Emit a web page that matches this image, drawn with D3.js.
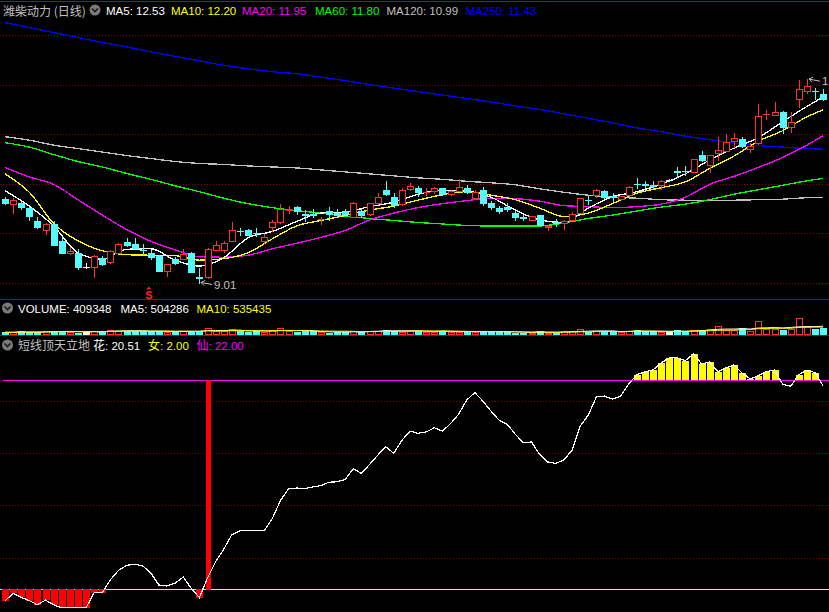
<!DOCTYPE html>
<html><head><meta charset="utf-8">
<script src="https://cdn.jsdelivr.net/npm/d3@7"></script>
<style>
html,body{margin:0;padding:0;background:#000;overflow:hidden;}
svg{display:block;}
text{font-family:"Liberation Sans","Noto Sans CJK SC",sans-serif;font-size:11.5px;}
.cjk{font-family:"Noto Sans CJK SC",sans-serif;font-size:12px;}
</style></head><body>
<svg id="c" width="829" height="612"></svg>
<script>
// ---------------- DATA ----------------
const stockTitle = "潍柴动力 (日线)";
const maLegend = [["MA5","12.53"],["MA10","12.20"],["MA20","11.95"],["MA60","11.80"],["MA120","10.99"],["MA250","11.43"]];
const volLegend = [["VOLUME","409348"],["MA5","504286"],["MA10","535435"]];
const indName = "短线顶天立地";
const indLegend = [["花","20.51"],["女","2.00"],["仙","22.00"]];

const opens = [10.69,10.59,10.62,10.52,10.25,10.06,10.18,9.85,9.60,9.61,
9.32,9.32,9.50,9.42,9.61,9.83,9.79,9.67,9.61,9.55,
9.24,9.48,9.49,9.60,9.12,9.12,9.67,9.67,9.85,10.05,
10.07,10.01,9.85,10.13,10.22,10.48,10.53,10.40,10.40,10.29,
10.45,10.41,10.45,10.34,10.45,10.39,10.61,10.88,10.73,10.59,
10.90,10.91,10.83,10.86,10.91,10.79,10.86,10.91,10.71,10.88,
10.62,10.51,10.54,10.42,10.33,10.28,10.37,10.12,10.22,10.20,
10.28,10.42,10.68,10.77,10.86,10.75,10.70,10.77,11.00,11.00,
10.98,10.97,11.08,11.25,11.26,11.24,11.58,11.38,11.62,11.67,
11.87,11.90,11.70,11.82,12.40,12.39,12.45,12.15,12.70,12.88,
12.88,12.81];
const highs = [10.74,10.72,10.66,10.54,10.34,10.20,10.24,9.92,9.72,9.69,
9.40,9.56,9.55,9.66,9.81,9.91,9.91,9.79,9.67,9.56,
9.39,9.52,9.68,9.63,9.31,9.70,9.85,9.85,10.22,10.10,
10.08,10.10,9.99,10.27,10.59,10.55,10.55,10.47,10.50,10.34,
10.53,10.50,10.50,10.63,10.49,10.62,10.81,11.06,10.82,10.91,
11.01,10.96,10.91,10.93,10.92,10.88,11.09,10.98,10.87,10.94,
10.66,10.55,10.61,10.46,10.38,10.36,10.38,10.16,10.30,10.28,
10.44,10.72,10.75,10.90,10.88,10.82,10.76,10.95,11.12,11.06,
11.06,11.07,11.10,11.33,11.35,11.51,11.66,11.59,11.94,12.00,
12.03,11.94,11.82,12.61,12.49,12.64,12.47,12.45,13.09,13.11,
12.93,12.91];
const lows = [10.59,10.42,10.50,10.27,10.10,9.99,9.76,9.60,9.59,9.28,
9.31,9.13,9.37,9.41,9.60,9.75,9.70,9.56,9.48,9.24,
9.14,9.39,9.48,9.22,9.01,9.11,9.66,9.63,9.84,9.97,
9.96,9.95,9.81,10.05,10.21,10.41,10.39,10.26,10.34,10.18,
10.28,10.34,10.38,10.33,10.33,10.38,10.60,10.77,10.53,10.58,
10.88,10.75,10.77,10.81,10.78,10.77,10.85,10.81,10.70,10.58,
10.49,10.42,10.45,10.28,10.27,10.27,10.16,10.06,10.15,10.08,
10.27,10.41,10.59,10.73,10.72,10.66,10.69,10.76,10.92,10.91,
10.89,10.90,11.05,11.14,11.18,11.23,11.46,11.24,11.48,11.66,
11.75,11.75,11.65,11.81,12.30,12.38,12.02,12.05,12.54,12.84,
12.70,12.69];
const closes = [10.61,10.67,10.53,10.36,10.12,10.18,9.77,9.61,9.64,9.32,
9.32,9.55,9.38,9.64,9.79,9.76,9.71,9.66,9.52,9.25,
9.38,9.40,9.59,9.23,9.11,9.69,9.76,9.81,10.06,10.04,
9.97,10.00,9.93,10.22,10.49,10.49,10.45,10.38,10.38,10.30,
10.39,10.37,10.39,10.61,10.38,10.61,10.73,10.79,10.58,10.88,
10.96,10.84,10.84,10.91,10.79,10.86,10.93,10.84,10.84,10.62,
10.54,10.46,10.49,10.33,10.32,10.35,10.17,10.15,10.21,10.26,
10.39,10.71,10.67,10.88,10.74,10.74,10.75,10.94,10.99,10.98,
10.96,11.05,11.08,11.24,11.25,11.50,11.47,11.58,11.68,11.84,
11.92,11.76,11.76,12.37,12.41,12.45,12.14,12.25,12.91,12.97,
12.87,12.70];
const volumes = [119000,119000,189000,119000,119000,189000,231000,231000,140000,91000,
119000,231000,189000,301000,231000,189000,231000,189000,189000,189000,
140000,140000,231000,231000,189000,399000,189000,189000,350000,231000,
140000,189000,140000,301000,399000,231000,140000,189000,189000,140000,
91000,140000,140000,231000,140000,231000,231000,301000,231000,140000,
231000,231000,161000,161000,231000,140000,140000,189000,140000,189000,
189000,140000,140000,91000,91000,91000,210000,91000,91000,189000,
189000,350000,161000,189000,189000,189000,119000,189000,280000,189000,
189000,140000,140000,280000,189000,280000,280000,329000,560000,280000,
280000,420000,189000,910000,371000,371000,280000,371000,1120000,469000,
350000,409348];

// moving-average lines at these bar indices
const maIdx = [0,3,6,9,12,15,18,21,24,27,30,33,36,39,42,45,48,51,54,57,60,63,66,69,72,75,78,81,84,87,90,93,96,99,101];
const ma5 = [10.86,10.55,10.15,9.61,9.48,9.68,9.69,9.46,9.34,9.51,9.91,10.04,10.24,10.41,10.43,10.54,10.63,10.79,10.87,10.85,10.73,10.47,10.27,10.22,10.51,10.74,10.84,10.99,11.20,11.48,11.72,11.93,12.25,12.56,12.75];
const ma10 = [11.20,10.83,10.20,9.85,9.65,9.57,9.56,9.55,9.46,9.49,9.61,9.89,10.15,10.26,10.36,10.47,10.55,10.67,10.78,10.84,10.77,10.68,10.51,10.34,10.41,10.60,10.81,10.92,11.04,11.31,11.56,11.86,12.07,12.35,12.49];
const ma20 = [11.33,11.14,10.99,10.68,10.37,10.08,9.84,9.67,9.53,9.52,9.56,9.69,9.80,9.92,10.06,10.27,10.41,10.52,10.60,10.66,10.71,10.70,10.65,10.56,10.54,10.52,10.54,10.59,10.73,10.99,11.15,11.33,11.53,11.78,11.97];
const ma60 = [11.83,11.74,11.59,11.45,11.34,11.21,11.09,10.96,10.84,10.71,10.60,10.52,10.46,10.41,10.35,10.30,10.26,10.22,10.19,10.16,10.15,10.15,10.15,10.21,10.30,10.37,10.45,10.53,10.59,10.68,10.79,10.88,10.97,11.06,11.11];
const ma120 = [11.95,11.88,11.78,11.71,11.64,11.57,11.51,11.45,11.41,11.39,11.36,11.34,11.32,11.28,11.24,11.20,11.16,11.12,11.09,11.05,11.02,10.98,10.90,10.83,10.77,10.73,10.71,10.68,10.67,10.67,10.67,10.68,10.69,10.72,10.73];
const ma250 = [14.25,14.15,14.05,13.95,13.85,13.76,13.66,13.57,13.48,13.39,13.32,13.26,13.22,13.15,13.08,13.00,12.93,12.86,12.79,12.72,12.65,12.57,12.50,12.41,12.32,12.23,12.13,12.05,11.96,11.89,11.82,11.77,11.74,11.71,11.70];

// indicator 短线顶天立地
const hua = [0.85,1.59,1.20,0.88,0.49,0.94,0.49,0.20,0.20,0.20,
0.20,1.64,1.64,2.87,3.78,4.26,4.38,4.21,3.54,2.38,
2.29,2.55,3.15,2.05,1.18,3.06,4.60,5.80,7.19,7.58,
7.61,7.61,7.58,8.73,10.46,11.59,11.66,11.62,11.76,11.90,
12.22,12.26,12.48,13.51,13.06,13.92,14.79,15.61,14.98,16.23,
17.10,16.90,17.03,17.43,17.10,17.82,18.73,20.08,20.80,19.98,
19.02,18.15,17.77,16.81,15.99,16.07,14.88,14.16,14.02,14.36,
15.27,17.58,18.63,20.37,20.46,20.17,20.46,21.62,22.51,22.77,
22.96,23.63,24.12,24.12,23.86,24.50,23.54,23.73,22.80,23.15,
23.44,22.67,22.10,22.41,22.80,22.96,21.60,21.40,22.51,22.96,
22.70,21.45];
const nvLevel = 2.00;
const xianLevel = 22.00;
const signalIdx = [25];
const sellMarkIdx = 18;
const lowMark = {idx:24, value:9.01, label:"9.01"};
const highMark = {idx:99, value:13.11, label:"13.11"};
const priceTicks = [9,10,11,12,13,14];
const indTicks = [5,10,15,20];

// ---------------- CHART ----------------
const W = 829, H = 612;
const UP = "#ff3232", DOWN = "#54fcfc", FLAT = "#ffffff";
const GRID = "#8c0000", FRAME = "#b00000", LABEL = "#c0c0c0";
const svg = d3.select("#c");
svg.append("rect").attr("width", W).attr("height", H).attr("fill", "#000");

const n = closes.length;
const x = d3.scaleLinear().domain([0, n - 1]).range([5, 823.1]);
const yP = d3.scaleLinear().domain([9, 14]).range([283, 35]);
const yV = d3.scaleLinear().domain([0, 1400000]).range([334, 314]);
const yI = d3.scaleLinear().domain([2, 22]).range([589, 380]);

// frames
const frame = svg.append("g").attr("shape-rendering", "crispEdges");
[1.5, 299.5, 335.5].forEach(y => frame.append("line").attr("x1", 0).attr("x2", W).attr("y1", y).attr("y2", y).attr("stroke", FRAME));

// grids
const grid = svg.append("g").attr("shape-rendering", "crispEdges");
grid.selectAll(".gp").data(priceTicks).join("line")
  .attr("x1", 0).attr("x2", W)
  .attr("y1", d => Math.round(yP(d)) + 0.5).attr("y2", d => Math.round(yP(d)) + 0.5)
  .attr("stroke", GRID).attr("stroke-dasharray", "1,2");
grid.selectAll(".gi").data(indTicks).join("line")
  .attr("x1", 0).attr("x2", W)
  .attr("y1", d => Math.round(yI(d)) + 0.5).attr("y2", d => Math.round(yI(d)) + 0.5)
  .attr("stroke", GRID).attr("stroke-dasharray", "1,2");

// MA lines
const maSeries = [[ma250, "#0000ff"], [ma120, "#c0c0c0"], [ma60, "#00ff00"], [ma20, "#ff00ff"], [ma10, "#ffff00"], [ma5, "#ffffff"]];
const maLine = d3.line().x(d => x(d[0])).y(d => yP(d[1])).curve(d3.curveMonotoneX);
svg.append("g").attr("shape-rendering", "crispEdges").selectAll("path").data(maSeries).join("path")
  .attr("d", s => maLine(maIdx.map((k, j) => [k, s[0][j]])))
  .attr("fill", "none").attr("stroke", s => s[1]).attr("stroke-width", 1.3);

// candles
const candles = closes.map((c, i) => ({i, o: opens[i], h: highs[i], l: lows[i], c}));
const colOf = d => d.c > d.o ? UP : (d.c < d.o ? DOWN : FLAT);
const gC = svg.append("g").attr("shape-rendering", "crispEdges");
candles.forEach(d => {
  const xc = Math.round(x(d.i));
  const col = colOf(d);
  const yt = Math.round(yP(Math.max(d.o, d.c))), yb = Math.round(yP(Math.min(d.o, d.c)));
  gC.append("line").attr("x1", xc + 0.5).attr("x2", xc + 0.5)
    .attr("y1", Math.round(yP(d.h))).attr("y2", Math.round(yP(d.l)) + 1).attr("stroke", col);
  if (yb - yt < 1) {
    gC.append("line").attr("x1", xc - 3).attr("x2", xc + 4).attr("y1", yt + 0.5).attr("y2", yt + 0.5).attr("stroke", col);
  } else if (d.c > d.o) {
    gC.append("rect").attr("x", xc - 2.5).attr("y", yt + 0.5).attr("width", 6).attr("height", yb - yt)
      .attr("fill", "#000").attr("stroke", col);
  } else {
    gC.append("rect").attr("x", xc - 3).attr("y", yt).attr("width", 7).attr("height", yb - yt + 1).attr("fill", col);
  }
});

// high / low marks
function mark(m) {
  const tx = Math.round(x(m.idx)) + 2, ty = yP(m.value);
  const g = svg.append("g");
  g.append("path").attr("d", `M${tx},${ty} L${tx + 11},${ty + 2} M${tx},${ty} L${tx + 4},${ty - 2} M${tx},${ty} L${tx + 3},${ty + 3}`)
    .attr("stroke", LABEL).attr("fill", "none");
  g.append("text").attr("x", tx + 13).attr("y", ty + 6).attr("fill", LABEL).text(m.label);
}
mark(lowMark); mark(highMark);

// S mark
{
  const sx = x(sellMarkIdx) - 2;
  svg.append("path").attr("d", `M${sx - 2.5},289.5 L${sx},286.5 L${sx + 2.5},289.5 Z`).attr("fill", "#ff2020");
  svg.append("text").attr("x", sx).attr("y", 298.5).attr("text-anchor", "middle")
    .attr("fill", "#ff2020").style("font-weight", "bold").style("font-size", "11px").text("S");
}

// volume
const gV = svg.append("g").attr("shape-rendering", "crispEdges");
candles.forEach(d => {
  const xc = Math.round(x(d.i));
  const col = colOf(d);
  const yt = Math.round(yV(volumes[d.i]));
  if (d.c > d.o) {
    gV.append("rect").attr("x", xc - 2.5).attr("y", yt + 0.5).attr("width", 6).attr("height", Math.max(0, 334 - yt))
      .attr("fill", "none").attr("stroke", col);
  } else {
    gV.append("rect").attr("x", xc - 3).attr("y", yt).attr("width", 7).attr("height", 335 - yt).attr("fill", col);
  }
});
const volMA = k => volumes.map((v, i) => d3.mean(volumes.slice(Math.max(0, i - k + 1), i + 1)));
const vLine = d3.line().x((d, i) => x(i)).y(d => yV(d));
svg.append("path").attr("d", vLine(volMA(5))).attr("fill", "none").attr("stroke", "#ffffff");
svg.append("path").attr("d", vLine(volMA(10))).attr("fill", "none").attr("stroke", "#ffff00");

// indicator panel
svg.append("defs").append("clipPath").attr("id", "ic").append("rect").attr("x", 0).attr("y", 352).attr("width", W).attr("height", 257);
const gI = svg.append("g").attr("clip-path", "url(#ic)");
gI.append("line").attr("x1", 0).attr("x2", W).attr("y1", Math.round(yI(nvLevel)) + 0.5).attr("y2", Math.round(yI(nvLevel)) + 0.5)
  .attr("stroke", "#ffff00").attr("shape-rendering", "crispEdges");
gI.append("line").attr("x1", 3).attr("x2", W).attr("y1", Math.round(yI(xianLevel)) + 0.5).attr("y2", Math.round(yI(xianLevel)) + 0.5)
  .attr("stroke", "#ff00ff").attr("shape-rendering", "crispEdges");
const gB = gI.append("g").attr("shape-rendering", "crispEdges");
hua.forEach((v, i) => {
  const xc = Math.round(x(i));
  if (v < nvLevel) {
    gB.append("rect").attr("x", xc - 3).attr("width", 7).attr("y", Math.round(yI(nvLevel)))
      .attr("height", Math.round(yI(v)) - Math.round(yI(nvLevel))).attr("fill", "#ff0000");
  } else if (v > xianLevel) {
    gB.append("rect").attr("x", xc - 3).attr("width", 7).attr("y", Math.round(yI(v)))
      .attr("height", Math.round(yI(xianLevel)) - Math.round(yI(v))).attr("fill", "#ffff00");
  }
});
gI.append("path").attr("d", d3.line().x((d, i) => x(i)).y(d => yI(d))(hua))
  .attr("fill", "none").attr("stroke", "#ffffff").attr("stroke-width", 1.2).attr("shape-rendering", "crispEdges");
signalIdx.forEach(i => {
  const xc = Math.round(x(i));
  gB.append("rect").attr("x", xc - 2).attr("width", 5).attr("y", Math.round(yI(xianLevel)))
    .attr("height", Math.round(yI(nvLevel)) - Math.round(yI(xianLevel)) + 1).attr("fill", "#ff0000");
});

// headers
function chevron(cx, cy) {
  svg.append("circle").attr("cx", cx).attr("cy", cy).attr("r", 5.5).attr("fill", "#7a7a7a");
  svg.append("path").attr("d", `M${cx - 3},${cy - 1.5} L${cx},${cy + 1.5} L${cx + 3},${cy - 1.5}`)
    .attr("stroke", "#1a1a1a").attr("stroke-width", 1.6).attr("fill", "none");
}
svg.append("text").attr("x", 3).attr("y", 15.5).attr("fill", LABEL).attr("class", "cjk").text(stockTitle);
chevron(95, 10);
const maColors = ["#ffffff", "#ffff00", "#ff00ff", "#00ff00", "#c0c0c0", "#0000ff"];
const maX = [106, 171, 242, 315, 386.5, 465.5];
maLegend.forEach((m, j) => svg.append("text").attr("x", maX[j]).attr("y", 15).attr("fill", maColors[j]).text(`${m[0]}: ${m[1]}`));

chevron(7.5, 308);
const volColors = ["#ffffff", "#ffffff", "#ffff00"];
const volX = [18, 120.5, 196.5];
volLegend.forEach((m, j) => svg.append("text").attr("x", volX[j]).attr("y", 312.5).attr("fill", volColors[j]).text(`${m[0]}: ${m[1]}`));

chevron(7.5, 345);
svg.append("text").attr("x", 18).attr("y", 349.5).attr("fill", LABEL).attr("class", "cjk").text(indName);
const indColors = ["#ffffff", "#ffff00", "#ff00ff"];
const indX = [93, 148, 196.5];
indLegend.forEach((m, j) => {
  const t = svg.append("text").attr("x", indX[j]).attr("y", 349.5).attr("fill", indColors[j]);
  t.append("tspan").attr("class", "cjk").text(m[0]);
  t.append("tspan").text(`: ${m[1]}`);
});
</script>
</body></html>
